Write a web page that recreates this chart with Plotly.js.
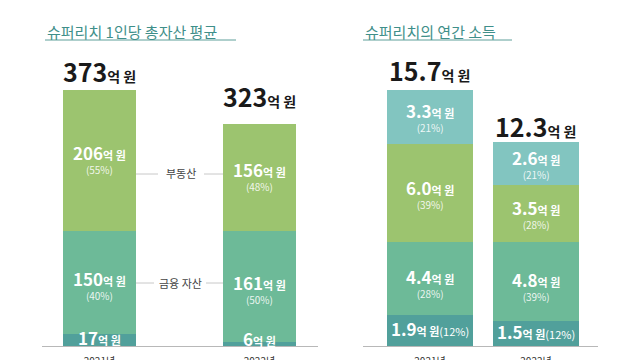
<!DOCTYPE html>
<html><head><meta charset="utf-8">
<script src="https://cdn.plot.ly/plotly-3.0.1.min.js"></script>
<style>html,body{margin:0;padding:0;background:#fff;}#chart{width:640px;height:360px;}</style>
</head><body><div id="chart"></div>
<script>
// ---- data ----
const years = ['2021년', '2022년'];
const assetOther = [17, 6];
const assetFinance = [150, 161];
const assetFinancePct = [40, 50];
const assetRealEstate = [206, 156];
const assetRealEstatePct = [55, 48];
const assetTotal = [373, 323];

const incomeA = [1.9, 1.5];
const incomeAPct = [12, 12];
const incomeB = [4.4, 4.8];
const incomeBPct = [28, 39];
const incomeC = [6.0, 3.5];
const incomeCPct = [39, 28];
const incomeD = [3.3, 2.6];
const incomeDPct = [21, 21];
const incomeTotal = [15.7, 12.3];

// ---- styles ----
const FONT = '"Noto Sans CJK KR", "Noto Sans", sans-serif';
const cDark = '#51a09b', cMid = '#6dba98', cLight = '#9cc46f', cTeal = '#82c5c0';
const xs = [0, 1];
const W = 640, H = 360;
const px = v => v / W, py = v => 1 - v / H;

function bar(y, color, xa, ya, w) {
  return {type: 'bar', x: xs, y: y, marker: {color: color, line: {width: 0}},
    xaxis: xa, yaxis: ya, width: w, hoverinfo: 'skip', showlegend: false};
}
const data = [
  bar(assetOther, cDark, 'x', 'y', 0.456),
  bar(assetFinance, cMid, 'x', 'y', 0.456),
  bar(assetRealEstate, cLight, 'x', 'y', 0.456),
  bar(incomeA, cDark, 'x2', 'y2', 0.81),
  bar(incomeB, cMid, 'x2', 'y2', 0.81),
  bar(incomeC, cLight, 'x2', 'y2', 0.81),
  bar(incomeD, cTeal, 'x2', 'y2', 0.81)
];

const ann = [];
function seg2(xa, ya, x, y, num, pct, yshift) {
  ann.push({xref: xa, yref: ya, x: x, y: y, yshift: yshift || 0, showarrow: false,
    xanchor: 'center', align: 'center',
    text: '<b><span style="font-size:17px">' + num + '</span><span style="font-size:11px">억 원</span></b><br><span style="font-size:10px;color:rgba(255,255,255,0.88)">(' + pct + '%)</span>',
    font: {family: FONT, color: '#fff', size: 11}});
}
function seg1(xa, ya, x, y, num, pct, yshift) {
  ann.push({xref: xa, yref: ya, x: x, y: y, yshift: yshift || 0, showarrow: false,
    xanchor: 'center',
    text: '<b><span style="font-size:17px">' + num + '</span><span style="font-size:11px">억 원</span></b>' + (pct !== null ? '<span style="font-size:11px">(' + pct + '%)</span>' : ''),
    font: {family: FONT, color: '#fff', size: 11}});
}
function total(xa, ya, x, y, num, yshift) {
  ann.push({xref: xa, yref: ya, x: x, y: y, yshift: yshift, showarrow: false,
    xanchor: 'center',
    text: '<b><span style="font-size:25px">' + num + '</span><span style="font-size:14px">억 원</span></b>',
    font: {family: FONT, color: '#1a1a1a', size: 14}});
}
const totShiftL = [19, 28], totShiftR = [18, 18];
for (let i = 0; i < 2; i++) {
  // assets
  seg1('x', 'y', xs[i], assetOther[i] / 2, assetOther[i], null, i === 0 ? 3 : 5);
  seg2('x', 'y', xs[i], assetOther[i] + assetFinance[i] / 2, assetFinance[i], assetFinancePct[i], -2);
  seg2('x', 'y', xs[i], assetOther[i] + assetFinance[i] + assetRealEstate[i] / 2, assetRealEstate[i], assetRealEstatePct[i], 2);
  total('x', 'y', xs[i], assetTotal[i], assetTotal[i], totShiftL[i]);
  // income
  let b = 0;
  seg1('x2', 'y2', xs[i], b + incomeA[i] / 2, incomeA[i].toFixed(1), incomeAPct[i], 2); b += incomeA[i];
  seg2('x2', 'y2', xs[i], b + incomeB[i] / 2, incomeB[i].toFixed(1), incomeBPct[i], -4); b += incomeB[i];
  seg2('x2', 'y2', xs[i], b + incomeC[i] / 2, incomeC[i].toFixed(1), incomeCPct[i], 0); b += incomeC[i];
  seg2('x2', 'y2', xs[i], b + incomeD[i] / 2, incomeD[i].toFixed(1), incomeDPct[i], 0);
  total('x2', 'y2', xs[i], incomeTotal[i], incomeTotal[i].toFixed(1), totShiftR[i]);
}
// titles
ann.push({xref: 'paper', yref: 'paper', x: px(45), y: py(31), xanchor: 'left', yanchor: 'middle', showarrow: false,
  text: '슈퍼리치 1인당 총자산 평균', font: {family: FONT, size: 15, color: '#3f8f8a'}});
ann.push({xref: 'paper', yref: 'paper', x: px(363), y: py(31), xanchor: 'left', yanchor: 'middle', showarrow: false,
  text: '슈퍼리치의 연간 소득', font: {family: FONT, size: 15, color: '#3f8f8a'}});
// category labels between bars
ann.push({xref: 'paper', yref: 'paper', x: px(181), y: py(173), xanchor: 'center', yanchor: 'middle', showarrow: false,
  text: '부동산', font: {family: FONT, size: 11, color: '#444'}});
ann.push({xref: 'paper', yref: 'paper', x: px(180), y: py(283), xanchor: 'center', yanchor: 'middle', showarrow: false,
  text: '금융 자산', font: {family: FONT, size: 11, color: '#444'}});

function hline(x0, x1, y, color, w) {
  return {type: 'line', xref: 'paper', yref: 'paper', x0: px(x0), x1: px(x1), y0: py(y), y1: py(y),
    line: {color: color, width: w}};
}
const shapes = [
  hline(45, 236, 40, '#5f9f9a', 1),
  hline(363, 512, 40, '#5f9f9a', 1),
  hline(136, 158, 174, '#c8c8c8', 1),
  hline(204, 223, 174, '#c8c8c8', 1),
  hline(136, 154, 283, '#c8c8c8', 1),
  hline(206, 223, 283, '#c8c8c8', 1)
];

const yDom = [14 / H, 1];
const axBase = {showgrid: false, zeroline: false, fixedrange: true};
const xTick = {tickvals: xs, ticktext: years, showline: true, linecolor: '#b8b8b8', linewidth: 1,
  ticks: '', ticklabelstandoff: 6, tickfont: {family: FONT, size: 10, color: '#333'}};
const layout = {
  width: W, height: H, margin: {l: 0, r: 0, t: 0, b: 0},
  paper_bgcolor: '#fff', plot_bgcolor: 'rgba(0,0,0,0)',
  barmode: 'stack', bargap: 0,
  font: {family: FONT},
  xaxis: Object.assign({}, axBase, xTick, {domain: [px(42), px(318)], range: [-0.359, 1.366], anchor: 'y'}),
  yaxis: Object.assign({}, axBase, {domain: yDom, range: [0, 346 / 0.687], visible: false, anchor: 'x'}),
  xaxis2: Object.assign({}, axBase, xTick, {domain: [px(363), px(598)], range: [-0.632, 1.585], anchor: 'y2'}),
  yaxis2: Object.assign({}, axBase, {domain: yDom, range: [0, 346 / 16.43], visible: false, anchor: 'x2'}),
  annotations: ann,
  shapes: shapes
};
Plotly.newPlot('chart', data, layout, {staticPlot: true, displayModeBar: false});
</script>
</body></html>
